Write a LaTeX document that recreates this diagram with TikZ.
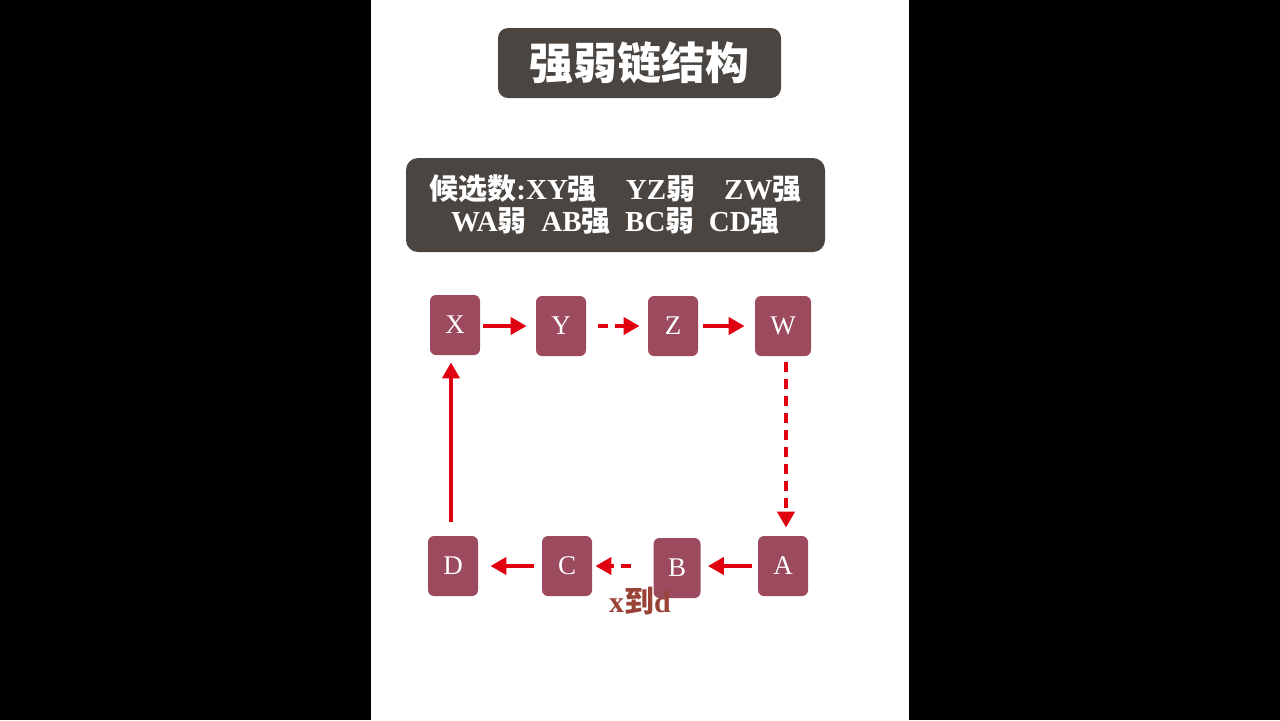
\documentclass[tikz,border=0pt]{standalone}
\usepackage{fontspec}
\setmainfont{Liberation Serif}
\newfontfamily\cjk{Noto Sans CJK SC}
\usepackage{xcolor}
\usepackage{tikz}
\usetikzlibrary{arrows.meta}

\definecolor{boxgray}{HTML}{4A4540}
\definecolor{cellred}{HTML}{9C4A5E}
\definecolor{linkred}{HTML}{E0000F}
\definecolor{notered}{HTML}{9A4236}

\tikzset{
    cell/.style={fill=cellred,text=white,rounded corners=3pt,minimum width=25pt,
                 minimum height=30pt,inner sep=0pt,font=\fontsize{13.5}{15}\selectfont},
    strong/.style={draw=linkred,line width=2pt,-{Triangle[length=8pt,width=8.5pt]}},
    weak/.style={strong,dash pattern=on 5pt off 3.5pt},
}

\begin{document}
\begin{tikzpicture}[x=0.5pt,y=-0.5pt]
    % Page
    \fill[black] (0,0) rectangle (1280,720);
    \fill[white] (371,0) rectangle (909,720);

    % Title
    \node[fill=boxgray,rounded corners=5pt,minimum width=141.5pt,minimum height=35pt,
          text=white,font=\cjk\bfseries\fontsize{22}{24}\selectfont] (title) at (639.5,63) {强弱链结构};

    % Candidates
    \node[fill=boxgray,rounded corners=6pt,minimum width=209.5pt,minimum height=47pt,
          text=white,align=center,font=\bfseries\fontsize{14.5}{16}\selectfont] (cands) at (615.5,205)
          {{\cjk 候选数}:XY{\cjk 强}\ \ \ \ YZ{\cjk 弱}\ \ \ \ ZW{\cjk 强}\\
           WA{\cjk 弱}\ \ AB{\cjk 强}\ \ BC{\cjk 弱}\ \ CD{\cjk 强}};

    % Cells
    \node[cell] (X) at (455,325) {X};
    \node[cell] (Y) at (561,326) {Y};
    \node[cell] (Z) at (673,326) {Z};
    \node[cell,minimum width=28pt] (W) at (783,326) {W};
    \node[cell] (A) at (783,566) {A};
    \node[cell,minimum width=23.5pt] (B) at (677,568) {B};
    \node[cell] (C) at (567,566) {C};
    \node[cell] (D) at (453,566) {D};

    % Links
    \draw[strong] ([xshift=1.5pt]Y.west -| X.east) -- ([xshift=-4.5pt]Y.west);
    \draw[weak] ([xshift=6pt]Y.east) -- ([xshift=-4pt]Z.west);
    \draw[strong] ([xshift=2.5pt]Z.east) -- ([xshift=-5pt]W.west);
    \draw[weak] ([xshift=1.5pt,yshift=-3pt]W.south) -- ([xshift=1.5pt,yshift=4pt]A.north);
    \draw[strong] ([xshift=-3pt]A.west) -- ([xshift=3.5pt]A.west -| B.east);
    \draw[weak] ([xshift=-11pt]C.east -| B.west) -- ([xshift=1.5pt]C.east);
    \draw[strong] ([xshift=-4pt]C.west) -- ([xshift=6pt]D.east);
    \draw[strong] ([xshift=-1pt,yshift=7pt]D.north) -- ([xshift=-1pt,yshift=-3.5pt]D.north |- X.south);

    % Note
    \node[text=notered,font=\bfseries\fontsize{15}{17}\selectfont] (note) at (640,601) {x{\cjk 到}d};
\end{tikzpicture}
\end{document}
